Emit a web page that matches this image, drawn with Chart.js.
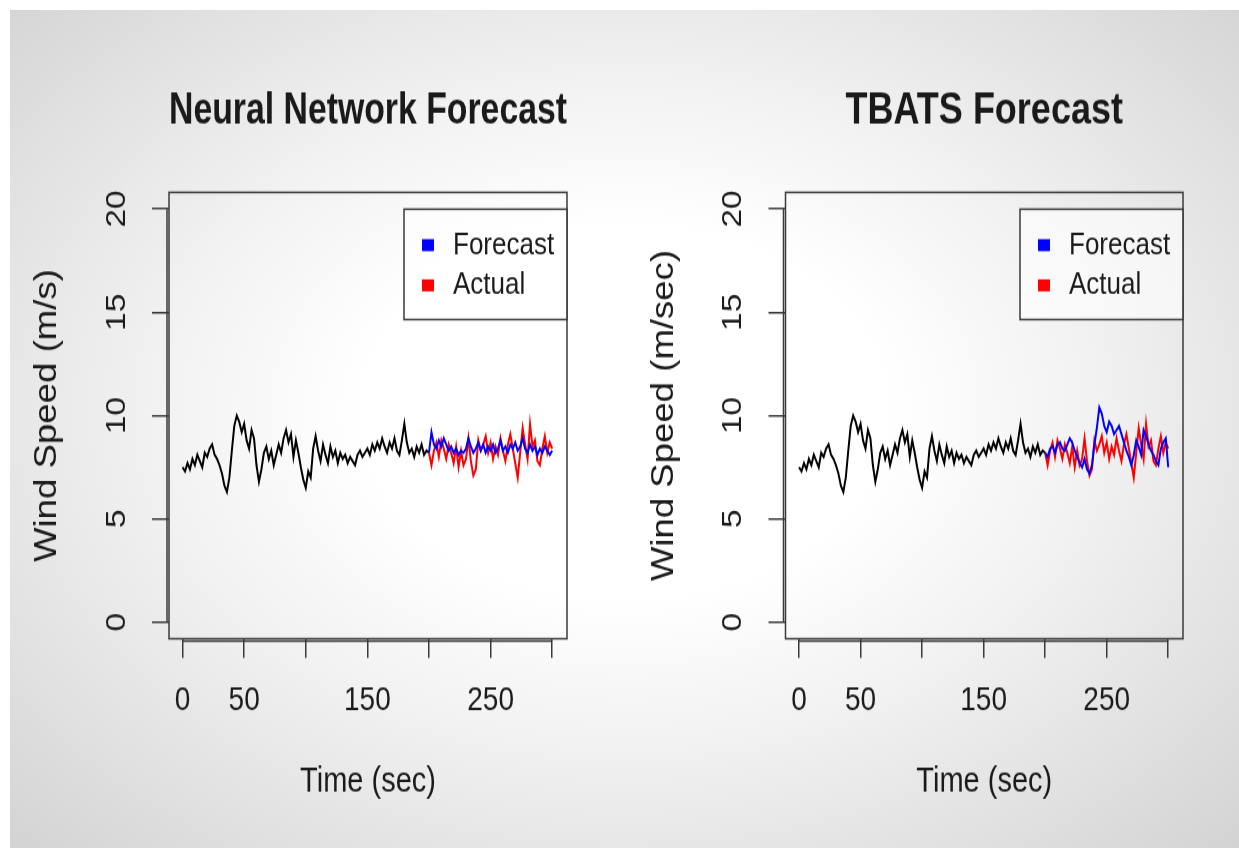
<!DOCTYPE html>
<html>
<head>
<meta charset="utf-8">
<script src="https://cdn.jsdelivr.net/npm/chart.js@4.4.1/dist/chart.umd.min.js"></script>
<style>
html, body { margin: 0; padding: 0; background: #fff; }
#page { position: relative; width: 1239px; height: 848px; overflow: hidden; }
#bg {
	position: absolute; left: 10px; top: 10px; right: 0; bottom: 0;
	background: radial-gradient(ellipse farthest-corner at 50% 48%, #ffffff 30%, #f1f1f1 55%, #d3d3d3 100%);
}
canvas { position: absolute; top: 0; }
</style>
</head>
<body>
<div id="page">
	<div id="bg"></div>
	<!-- the original R plot is stretched vertically, so the canvases are too -->
	<canvas id="nnChart" width="620" height="707" style="left:0;width:620px;height:848px"></canvas>
	<canvas id="tbatsChart" width="619" height="707" style="left:620px;width:619px;height:848px"></canvas>
</div>
<script>
// wind speed, one value every 2 sec
const histSpeed = [
	7.5, 7.3, 7.7, 7.4, 7.9, 7.6, 8.1, 7.8, 7.5, 8.2,
	8.0, 8.4, 8.6, 8.1, 7.9, 7.6, 7.2, 6.6, 6.3, 7.0,
	8.3, 9.5, 10.0, 9.7, 9.2, 9.6, 8.8, 8.4, 9.3, 8.9,
	7.6, 6.8, 7.4, 8.2, 8.5, 7.9, 8.3, 7.6, 8.1, 8.6,
	8.2, 8.9, 9.3, 8.7, 9.1, 8.0, 8.8, 8.2, 7.5, 6.9,
	6.5, 7.3, 7.0, 8.4, 9.0, 8.3, 7.8, 8.6, 8.1, 7.7,
	8.5, 8.0, 8.3, 7.7, 8.2, 7.9, 8.1, 7.7, 8.0, 7.8,
	7.6, 8.1, 8.3, 8.0, 8.2, 8.4, 8.1, 8.6, 8.3, 8.7,
	8.4, 8.9, 8.5, 8.2, 8.7, 8.4, 8.9, 8.3, 8.1, 8.8,
	9.6, 8.7, 8.2, 8.4, 8.0, 8.5, 8.2, 8.6, 8.1, 8.3,
	8.2,
];
const actualSpeed = [
	8.2, 7.6, 8.3, 8.7, 8.0, 8.8, 8.4, 7.9, 8.6, 8.2,
	7.7, 8.5, 7.5, 8.3, 7.6, 7.9, 8.9, 7.8, 7.1, 7.4,
	8.8, 8.3, 8.6, 9.0, 8.2, 8.7, 7.9, 8.5, 8.1, 8.9,
	8.3, 7.8, 8.6, 9.1, 8.4, 7.7, 7.0, 8.2, 9.4, 8.6,
	7.9, 9.6, 8.5, 8.8, 7.8, 7.6, 8.4, 9.0, 8.2, 8.7,
	8.4,
];
const nnForecast = [
	8.2, 9.2, 8.6, 8.4, 8.8, 8.5, 8.9, 8.6, 8.3, 8.5,
	8.2, 8.4, 8.1, 8.3, 8.2, 8.4, 8.9, 8.5, 8.2, 8.4,
	8.7, 8.3, 8.6, 8.2, 8.5, 8.3, 8.6, 8.2, 8.4, 8.8,
	8.3, 8.5, 8.2, 8.6, 8.4, 8.7, 8.3, 8.5, 8.9, 8.4,
	8.2, 8.6, 8.3, 8.5, 8.1, 8.4, 8.2, 8.5, 8.3, 8.1,
	8.3,
];
const tbatsForecast = [
	8.2, 8.0, 8.4, 8.5, 8.2, 8.6, 8.7, 8.4, 8.3, 8.6,
	8.9, 8.7, 8.3, 8.0, 7.7, 7.5, 7.9, 7.4, 7.2, 7.6,
	8.6, 9.4, 10.4, 10.1, 9.5, 9.2, 9.7, 9.5, 9.1, 9.3,
	9.5, 9.1, 8.7, 8.3, 8.0, 7.6, 8.1, 8.8, 8.5, 8.1,
	9.3, 9.0, 8.6, 8.3, 8.1, 7.8, 7.6, 8.4, 8.7, 8.9,
	7.5,
];
const timeStep = 2;
const forecastStart = 200;

const xTicks = [0, 50, 100, 150, 200, 250, 300];
const xTickLabels = ['0', '50', '', '150', '', '250', ''];
const yTicks = [0, 5, 10, 15, 20];

const textColor = '#1a1a1a';
const lineColor = '#3a3a3a';

Chart.defaults.font.family = '"Liberation Sans", Arial, Helvetica, sans-serif';
Chart.defaults.color = textColor;

function toPoints(values, start) {
	return values.map((v, i) => ({ x: start + i * timeStep, y: v }));
}

// box around the plot, R style axis lines and the boxed legend
const rPlotFrame = {
	id: 'rPlotFrame',
	afterDraw(chart) {
		const {
			ctx,
			chartArea: { left, top, right, bottom },
			scales: { x, y },
		} = chart;
		ctx.save();
		ctx.strokeStyle = lineColor;
		ctx.lineWidth = 1.5;
		ctx.strokeRect(left, top, right - left, bottom - top);

		ctx.beginPath();
		ctx.moveTo(left - 2, y.getPixelForValue(yTicks[0]));
		ctx.lineTo(left - 2, y.getPixelForValue(yTicks[yTicks.length - 1]));
		ctx.moveTo(x.getPixelForValue(xTicks[0]), bottom + 2);
		ctx.lineTo(x.getPixelForValue(xTicks[xTicks.length - 1]), bottom + 2);
		ctx.stroke();

		// legend (Forecast, Actual)
		const boxW = 163, boxH = 92;
		const bx = right - boxW, by = top + 14;
		ctx.fillStyle = 'rgba(255,255,255,0.6)';
		ctx.fillRect(bx, by, boxW, boxH);
		ctx.strokeRect(bx, by, boxW, boxH);
		const items = chart.data.datasets.filter((d) => d.label !== 'History');
		ctx.font = '26px "Liberation Sans", Arial, sans-serif';
		ctx.textBaseline = 'middle';
		ctx.textAlign = 'left';
		items.forEach((d, i) => {
			const cy = by + 30 + i * 33.5;
			ctx.fillStyle = d.borderColor;
			ctx.fillRect(bx + 18, cy - 5, 12, 10);
			ctx.fillStyle = textColor;
			ctx.fillText(d.label, bx + 49, cy);
		});
		ctx.restore();
	},
};

function makeChart(canvasId, titleText, yTitleText, forecastValues, pads) {
	const ctx = document.getElementById(canvasId);
	return new Chart(ctx, {
		type: 'line',
		data: {
			datasets: [
				{ label: 'Forecast', data: toPoints(forecastValues, forecastStart), borderColor: '#0000ff' },
				{ label: 'Actual', data: toPoints(actualSpeed, forecastStart), borderColor: '#ff0000' },
				{ label: 'History', data: toPoints(histSpeed, 0), borderColor: '#000000' },
			],
		},
		options: {
			responsive: false,
			animation: false,
			events: [],
			layout: { padding: { left: 0, right: pads.right, top: 0, bottom: 0 } },
			elements: {
				line: { borderWidth: 2, tension: 0, fill: false },
				point: { radius: 0 },
			},
			plugins: {
				legend: { display: false },
				tooltip: { enabled: false },
				title: {
					display: true,
					text: titleText,
					fullSize: false,
					color: textColor,
					font: { size: 36, weight: 'bold' },
					padding: { top: 71, bottom: 46.2 },
				},
			},
			scales: {
				x: {
					type: 'linear',
					min: -11,
					max: 312,
					afterBuildTicks: (s) => { s.ticks = xTicks.map((v) => ({ value: v })); },
					afterFit: (s) => { s.height = 174.5; },
					border: { display: false },
					grid: { drawOnChartArea: false, drawTicks: true, tickLength: 16, color: lineColor, lineWidth: 1.5 },
					ticks: {
						font: { size: 28 },
						padding: 18.7,
						autoSkip: false,
						maxRotation: 0,
						minRotation: 0,
						callback: (v) => xTickLabels[xTicks.indexOf(v)],
					},
					title: {
						display: true,
						text: 'Time (sec)',
						font: { size: 29 },
						padding: { top: 0, bottom: 37.6 },
					},
				},
				y: {
					min: -0.8,
					max: 20.8,
					afterBuildTicks: (s) => { s.ticks = yTicks.map((v) => ({ value: v })); },
					afterFit: (s) => { s.width = pads.yWidth; },
					border: { display: false },
					grid: { drawOnChartArea: false, drawTicks: true, tickLength: 17, color: lineColor, lineWidth: 1.5 },
					ticks: {
						font: { size: 28 },
						minRotation: 90,
						maxRotation: 90,
						crossAlign: 'center',
						padding: 19.4,
					},
					title: {
						display: true,
						text: yTitleText,
						font: { size: 30.5 },
						padding: { top: pads.yTitlePad, bottom: 0 },
					},
				},
			},
		},
		plugins: [rPlotFrame],
	});
}

makeChart('nnChart', 'Neural Network Forecast', 'Wind Speed (m/s)', nnForecast,
	{ right: 53, yWidth: 169, yTitlePad: 29.7 });
makeChart('tbatsChart', 'TBATS Forecast', 'Wind Speed (m/sec)', tbatsForecast,
	{ right: 56, yWidth: 165.5, yTitlePad: 26.7 });
</script>
</body>
</html>
